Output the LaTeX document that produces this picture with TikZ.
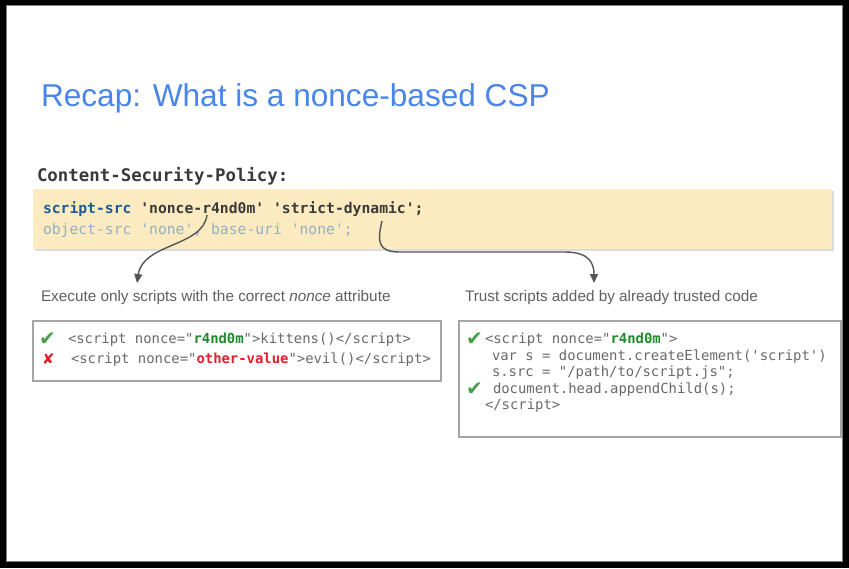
\documentclass[tikz,border=0pt]{standalone}
\usepackage{fontspec}
\setmainfont{Liberation Sans}
\newfontfamily\codefont{DejaVu Sans Mono}
\newfontfamily\symfont{DejaVu Sans}
\usetikzlibrary{arrows.meta}

\definecolor{titleblue}{HTML}{4A86E8}
\definecolor{policybg}{HTML}{FCEBC0}
\definecolor{keyblue}{HTML}{1F5B98}
\definecolor{darktext}{HTML}{3A3A3A}
\definecolor{faded}{HTML}{93AFC4}
\definecolor{captiongray}{HTML}{606060}
\definecolor{codegray}{HTML}{6A6A6A}
\definecolor{okgreen}{HTML}{43A047}
\definecolor{valgreen}{HTML}{1E8A2A}
\definecolor{badred}{HTML}{E3202A}
\definecolor{framegray}{HTML}{A6A6A6}
\definecolor{connector}{HTML}{555555}

\tikzset{
  txt/.style={anchor=base west, inner sep=0pt, outer sep=0pt},
  caption/.style={txt, font=\fontsize{15.3}{18}\selectfont, text=captiongray},
  policy/.style={txt, font=\codefont\fontsize{14.7}{17}\selectfont},
  code/.style={txt, font=\codefont\fontsize{13.9}{16}\selectfont, text=codegray},
  tick/.style={txt, font=\symfont\fontsize{20}{22}\selectfont, text=okgreen},
  codebox/.style={draw=framegray, line width=1.2pt},
  pointer/.style={draw=connector, line width=1.4pt,
    -{Triangle[width=8pt,length=9pt]}},
}

\begin{document}
\begin{tikzpicture}[x=1pt,y=-1pt]
  % page: black surround and white slide
  \fill[black] (0,0) rectangle (849,568);
  \useasboundingbox (0,0) rectangle (849,568);
  \fill[white, draw=gray, line width=0.8pt] (6,5) rectangle (842,561);

  % title
  \node[txt, font=\fontsize{31.6}{36}\selectfont, text=titleblue] (title)
    at (41,106) {Recap: What is a nonce-based CSP};

  % header name
  \node[txt, font=\codefont\bfseries\fontsize{17.4}{20}\selectfont, text=darktext] (header)
    at (37,181) {Content-Security-Policy:};

  % policy box with soft shadow
  \fill[black!14] (34.5,190.5) rectangle (833.5,250.5);
  \fill[policybg] (33,189) rectangle (832,249);
  \node[policy, font=\codefont\bfseries\fontsize{14.7}{17}\selectfont, text=darktext] (line1)
    at (43,213) {\textcolor{keyblue}{script-src} 'nonce-r4nd0m' 'strict-dynamic';};
  \node[policy, text=faded] (line2)
    at (43,234) {object-src 'none', base-uri 'none';};

  % anchor points of the two pointers
  \coordinate (nonceref) at (207,215);
  \coordinate (dynref) at (382,221);
  \coordinate (noncecap) at (137,283);
  \coordinate (dyncap) at (594,283);

  \draw[pointer] (nonceref) .. controls (203,247) and (143,243) .. (noncecap);
  \draw[pointer] (dynref) .. controls (377,242) and (378,252) .. (400,252)
    -- (565,252) .. controls (590,252) and (594,264) .. (dyncap);

  % captions
  \node[caption] (cap1) at (41,301) {Execute only scripts with the correct \textit{nonce} attribute};
  \node[caption] (cap2) at (465,301) {Trust scripts added by already trusted code};

  % left example
  \draw[codebox] (33,321) rectangle (441,381);
  \node[tick] (ok1) at (39,345) {✔};
  \node[code] (k1) at (68,343)
    {<script nonce="\textcolor{valgreen}{\bfseries r4nd0m}">kittens()</script>};
  \node[txt, text=badred, font=\symfont\bfseries\fontsize{15}{17}\selectfont] (bad1) at (42,364) {✘};
  \node[code] (k2) at (71,363)
    {<script nonce="\textcolor{badred}{\bfseries other-value}">evil()</script>};

  % right example
  \draw[codebox] (459,321) rectangle (841,437);
  \node[tick] (ok2) at (466,345) {✔};
  \node[code] (r1) at (485,343)
    {<script nonce="\textcolor{valgreen}{\bfseries r4nd0m}">};
  \node[code] (r2) at (492,360) {var s = document.createElement('script')};
  \node[code] (r3) at (492,376) {s.src = "/path/to/script.js";};
  \node[tick] (ok3) at (466,395) {✔};
  \node[code] (r4) at (493,393) {document.head.appendChild(s);};
  \node[code] (r5) at (485,409) {</script>};
\end{tikzpicture}
\end{document}
